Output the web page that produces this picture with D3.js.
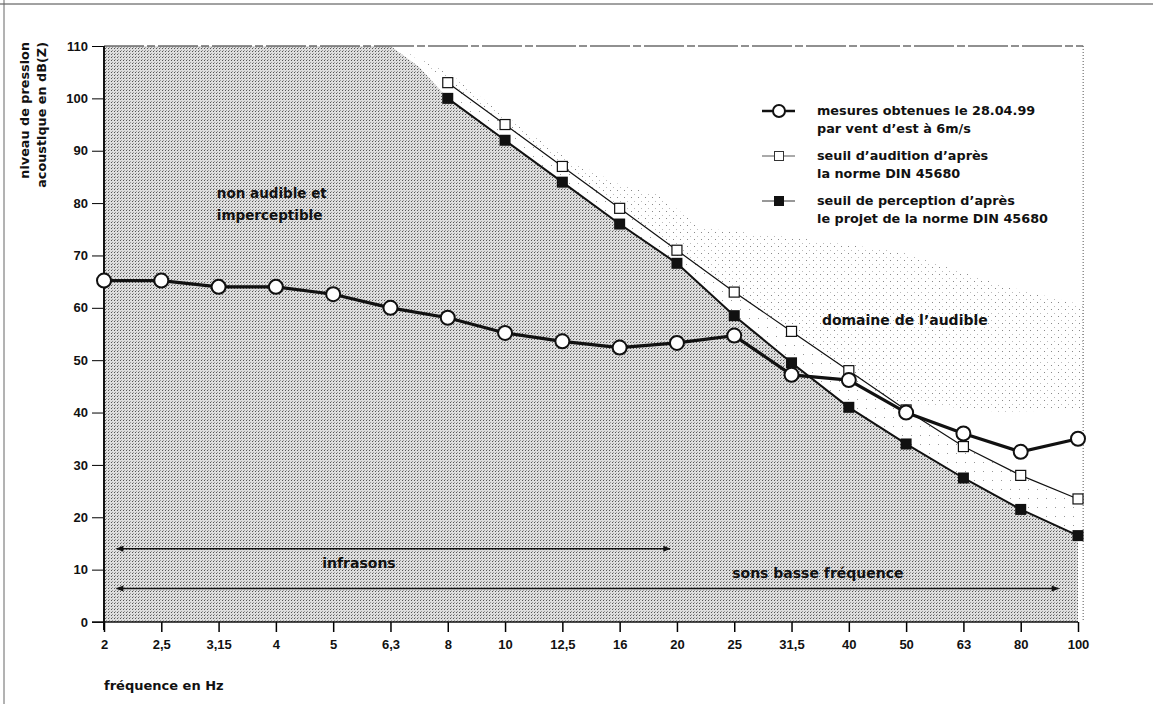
<!DOCTYPE html>
<html>
<head>
<meta charset="utf-8">
<script src="https://cdn.jsdelivr.net/npm/d3@7"></script>
<style>
  body { margin: 0; background: #fff; }
  svg text { font-family: "DejaVu Sans", "Liberation Sans", sans-serif; font-weight: bold; fill: #111; }
  svg .tick text { font-family: "Liberation Sans", Arial, sans-serif; }
</style>
</head>
<body>
<svg width="1153" height="704"></svg>
<script>
const freqs = ['2', '2,5', '3,15', '4', '5', '6,3', '8', '10', '12,5', '16', '20', '25', '31,5', '40', '50', '63', '80', '100'];
const measured = [65.2, 65.2, 64, 64, 62.6, 60, 58.1, 55.2, 53.6, 52.4, 53.3, 54.7, 47.2, 46.2, 40, 36, 32.5, 35];
const hearingFreqs = ['8', '10', '12,5', '16', '20', '25', '31,5', '40', '50', '63', '80', '100'];
const hearing = [103, 95, 87, 79, 71, 63, 55.5, 48, 40.5, 33.5, 28, 23.5];
const perception = [100, 92, 84, 76, 68.5, 58.5, 49.5, 41, 34, 27.5, 21.5, 16.5];
const yTicks = d3.range(0, 111, 10);

// shaded zones, in [frequency index, dB]
const audibleZone = [[5.08, 110], [5.95, 105.4], [7.05, 96.3], [8.13, 88.2], [9.0, 83.5], [9.7, 81.6],
  [10.4, 75.3], [12.15, 73.3], [13.89, 70.7], [15.64, 64.4], [17.09, 60.5], [17.09, 40.5], [15.64, 40.1],
  [13.89, 42], [12.84, 44.5], [11.8, 50], [10.4, 63.4], [8.66, 80.6], [6.91, 95.9], [5.51, 107.3]];
const darkTop = [[0, 110], [5.0, 110], [5.5, 106]];

const legendRows = [
  ['mesures obtenues le 28.04.99', 'par vent d\u2019est à 6m/s'],
  ['seuil d\u2019audition d\u2019après', 'la norme DIN 45680'],
  ['seuil de perception d\u2019après', 'le projet de la norme DIN 45680']
];

const svg = d3.select('svg');
const mLeft = 104, mRight = 1078, mTop = 46, mBottom = 622;

const x = d3.scalePoint().domain(freqs).range([mLeft, mRight]);
const xi = d3.scaleLinear().domain([0, freqs.length - 1]).range([mLeft, mRight]);
const y = d3.scaleLinear().domain([0, 110]).range([mBottom, mTop]);

// patterns
const defs = svg.append('defs');
const dark = defs.append('pattern').attr('id', 'dark').attr('width', 3).attr('height', 3)
  .attr('patternUnits', 'userSpaceOnUse');
dark.append('rect').attr('width', 3).attr('height', 3).attr('fill', '#dedede');
dark.append('rect').attr('x', 0).attr('y', 0).attr('width', 1).attr('height', 1).attr('fill', '#555');
dark.append('rect').attr('x', 1).attr('y', 2).attr('width', 1).attr('height', 1).attr('fill', '#9a9a9a');
const light = defs.append('pattern').attr('id', 'light').attr('width', 7).attr('height', 7)
  .attr('patternUnits', 'userSpaceOnUse');
light.append('rect').attr('width', 7).attr('height', 7).attr('fill', '#fff');
light.append('rect').attr('x', 1).attr('y', 1).attr('width', 1).attr('height', 1).attr('fill', '#8a8a8a');
light.append('rect').attr('x', 4).attr('y', 5).attr('width', 1).attr('height', 1).attr('fill', '#bbb');
const sparse = defs.append('pattern').attr('id', 'sparse').attr('width', 9).attr('height', 9)
  .attr('patternUnits', 'userSpaceOnUse');
sparse.append('rect').attr('width', 9).attr('height', 9).attr('fill', '#fff');
sparse.append('rect').attr('x', 2).attr('y', 3).attr('width', 1).attr('height', 1).attr('fill', '#999');

const marker = defs.append('marker').attr('id', 'arr').attr('viewBox', '0 0 10 10')
  .attr('refX', 9).attr('refY', 5).attr('markerWidth', 7).attr('markerHeight', 5)
  .attr('orient', 'auto-start-reverse');
marker.append('path').attr('d', 'M0,1L10,5L0,9Z').attr('fill', '#111');

// page frame
svg.append('line').attr('x1', 0).attr('x2', 1153).attr('y1', 4).attr('y2', 4).attr('stroke', '#444');
svg.append('line').attr('x1', 4).attr('x2', 4).attr('y1', 0).attr('y2', 704).attr('stroke', '#666');

const area = d3.line().x(d => xi(d[0])).y(d => y(d[1]));

// light audible zone
svg.append('path').attr('d', area(audibleZone) + 'Z').attr('fill', 'url(#light)');
const band = hearing.map((v, i) => [freqs.indexOf(hearingFreqs[i]), v])
  .concat(perception.map((v, i) => [freqs.indexOf(hearingFreqs[i]), v]).reverse());
svg.append('path').attr('d', area(band) + 'Z').attr('fill', 'url(#sparse)');

// dark zone below the perception threshold
const darkPoly = [[0, 0]].concat(darkTop)
  .concat(perception.map((v, i) => [freqs.indexOf(hearingFreqs[i]), v]))
  .concat([[freqs.length - 1, 0]]);
svg.append('path').attr('d', area(darkPoly) + 'Z').attr('fill', 'url(#dark)');

// plot borders
svg.append('line').attr('x1', mLeft).attr('x2', xi(17.09)).attr('y1', mTop).attr('y2', mTop)
  .attr('stroke', '#222').attr('stroke-width', 1.2).attr('stroke-dasharray', '40,3,8,3');
svg.append('line').attr('x1', xi(17.09)).attr('x2', xi(17.09)).attr('y1', mTop).attr('y2', mBottom)
  .attr('stroke', '#555').attr('stroke-dasharray', '1,2');

// axes
svg.append('g').attr('transform', `translate(${mLeft},0)`)
  .call(d3.axisLeft(y).tickValues(yTicks).tickSize(12).tickPadding(4))
  .call(g => g.select('.domain').remove())
  .call(g => g.selectAll('text').attr('font-size', 13));
svg.append('line').attr('x1', mLeft).attr('x2', mLeft).attr('y1', mTop).attr('y2', mBottom + 8)
  .attr('stroke', '#111').attr('stroke-width', 2);

svg.append('g').attr('transform', `translate(0,${mBottom})`)
  .call(d3.axisBottom(x).tickSize(10).tickPadding(8))
  .call(g => g.select('.domain').remove())
  .call(g => g.selectAll('line').attr('stroke-width', 1.5))
  .call(g => g.selectAll('text').attr('font-size', 13));
svg.append('line').attr('x1', mLeft - 12).attr('x2', mRight).attr('y1', mBottom).attr('y2', mBottom)
  .attr('stroke', '#111').attr('stroke-width', 1.5);

// axis titles
svg.append('text').attr('transform', `translate(25,42) rotate(-90)`).attr('text-anchor', 'end')
  .attr('dy', '0.35em').attr('font-size', 12.8).text('niveau de pression');
svg.append('text').attr('transform', `translate(42,42) rotate(-90)`).attr('text-anchor', 'end')
  .attr('dy', '0.35em').attr('font-size', 12.8).text('acoustique en dB(Z)');
svg.append('text').attr('x', mLeft).attr('y', 690).attr('font-size', 13).text('fréquence en Hz');

// zone labels
svg.append('text').attr('x', xi(1.97)).attr('y', y(81)).attr('font-size', 13.5).text('non audible et');
svg.append('text').attr('x', xi(1.97)).attr('y', y(76.8)).attr('font-size', 13.5).text('imperceptible');
svg.append('text').attr('x', xi(12.53)).attr('y', y(56.8)).attr('font-size', 14).text('domaine de l\u2019audible');

// range arrows
svg.append('line').attr('x1', xi(0.22)).attr('x2', xi(9.88)).attr('y1', y(14)).attr('y2', y(14))
  .attr('stroke', '#111').attr('stroke-width', 1.5)
  .attr('marker-start', 'url(#arr)').attr('marker-end', 'url(#arr)');
svg.append('text').attr('x', xi(4.45)).attr('y', y(10.3)).attr('text-anchor', 'middle')
  .attr('font-size', 14).text('infrasons');
svg.append('line').attr('x1', xi(0.22)).attr('x2', xi(16.66)).attr('y1', y(6.4)).attr('y2', y(6.4))
  .attr('stroke', '#111').attr('stroke-width', 1.5)
  .attr('marker-start', 'url(#arr)').attr('marker-end', 'url(#arr)');
svg.append('text').attr('x', xi(12.46)).attr('y', y(8.4)).attr('text-anchor', 'middle')
  .attr('font-size', 14).text('sons basse fréquence');

// series
const line = d3.line().x(d => x(d.f)).y(d => y(d.v));
const hearData = hearing.map((v, i) => ({f: hearingFreqs[i], v}));
const percData = perception.map((v, i) => ({f: hearingFreqs[i], v}));
const measData = measured.map((v, i) => ({f: freqs[i], v}));

svg.append('path').datum(hearData).attr('d', line).attr('fill', 'none')
  .attr('stroke', '#111').attr('stroke-width', 1.2);
svg.selectAll('.hs').data(hearData).enter().append('rect')
  .attr('x', d => x(d.f) - 5).attr('y', d => y(d.v) - 5).attr('width', 10).attr('height', 10)
  .attr('fill', '#fff').attr('stroke', '#111').attr('stroke-width', 1.2);

svg.append('path').datum(percData).attr('d', line).attr('fill', 'none')
  .attr('stroke', '#111').attr('stroke-width', 2);
svg.selectAll('.ps').data(percData).enter().append('rect')
  .attr('x', d => x(d.f) - 5.5).attr('y', d => y(d.v) - 5.5).attr('width', 11).attr('height', 11)
  .attr('fill', '#111');

svg.append('path').datum(measData).attr('d', line).attr('fill', 'none')
  .attr('stroke', '#111').attr('stroke-width', 3.2);
svg.selectAll('.mc').data(measData).enter().append('circle')
  .attr('cx', d => x(d.f)).attr('cy', d => y(d.v)).attr('r', 7)
  .attr('fill', '#fff').attr('stroke', '#111').attr('stroke-width', 2);

// legend
const lg = svg.append('g').attr('transform', 'translate(762,111)');
const rowGap = 45;
lg.selectAll('.lt').data(legendRows).enter().append('text')
  .attr('x', 55).attr('y', (d, i) => i * rowGap).attr('dy', '0.35em').attr('font-size', 12.8)
  .each(function(d) {
    d3.select(this).append('tspan').attr('x', 55).text(d[0]);
    d3.select(this).append('tspan').attr('x', 55).attr('dy', 18).text(d[1]);
  });
lg.append('line').attr('x1', 0).attr('x2', 33).attr('y1', 0).attr('y2', 0).attr('stroke', '#111').attr('stroke-width', 2.5);
lg.append('circle').attr('cx', 17).attr('cy', 0).attr('r', 6).attr('fill', '#fff').attr('stroke', '#111').attr('stroke-width', 2);
lg.append('line').attr('x1', 0).attr('x2', 33).attr('y1', rowGap).attr('y2', rowGap).attr('stroke', '#555').attr('stroke-width', 1);
lg.append('rect').attr('x', 12.5).attr('y', rowGap - 4.5).attr('width', 9).attr('height', 9).attr('fill', '#fff').attr('stroke', '#333');
lg.append('line').attr('x1', 0).attr('x2', 33).attr('y1', rowGap * 2).attr('y2', rowGap * 2).attr('stroke', '#333').attr('stroke-width', 1.2);
lg.append('rect').attr('x', 12).attr('y', rowGap * 2 - 5).attr('width', 10).attr('height', 10).attr('fill', '#111');
</script>
</body>
</html>
